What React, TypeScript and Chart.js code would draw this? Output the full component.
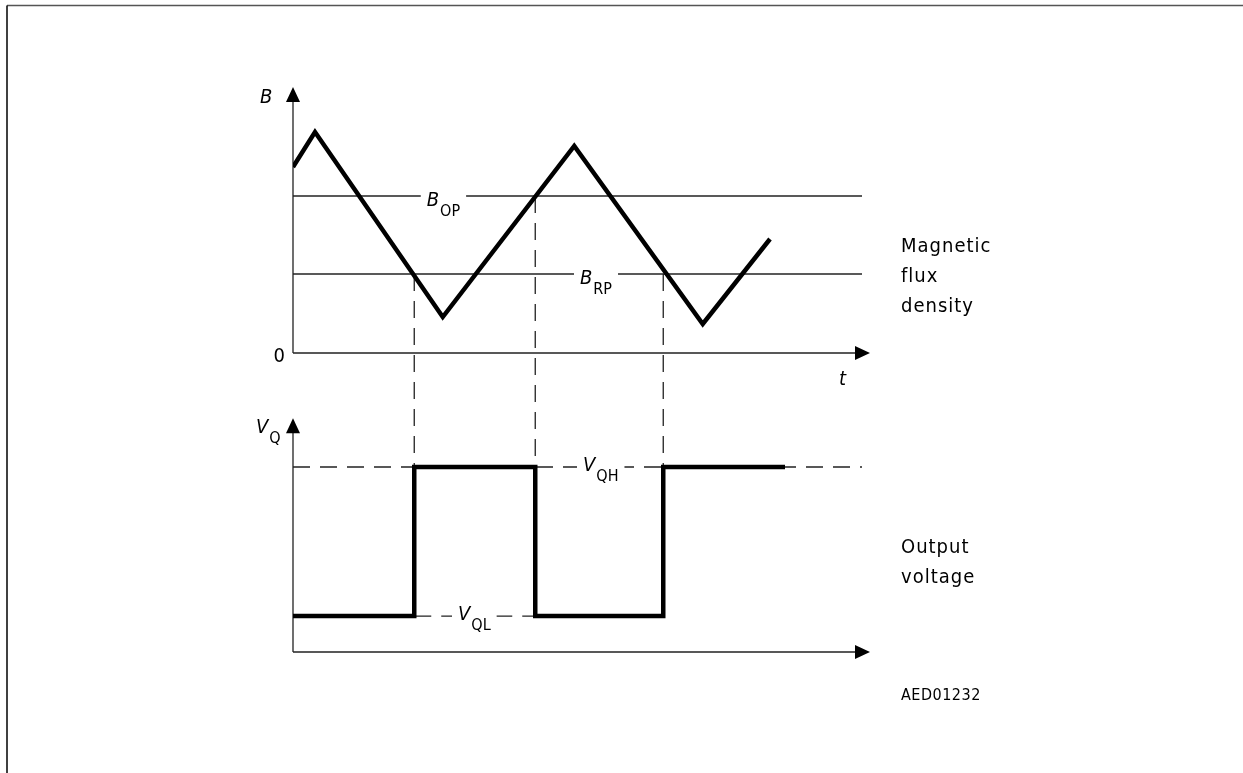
import React, { useEffect, useRef } from 'react';
import { Chart, registerables } from 'chart.js';

Chart.register(...registerables);

// ---- data (time in ms, flux density in mT, voltage in V) ----
const timeAxisEnd = 23.08;
const thresholdLineEnd = 22.76;

const fluxTimes = [0, 0.88, 5.99, 11.25, 16.39, 19.08];
const fluxValues = [18.6, 22.1, 3.6, 20.7, 2.9, 11.4];
const B_OP = 15.7;
const B_RP = 7.9;
const fluxAxisTop = 26.6;

const V_QH = 5.0;
const V_QL = 0.97;
const switchTimes = [0, 4.85, 9.69, 14.81, 19.68];
const outputLevels = [V_QL, V_QH, V_QL, V_QH, V_QH];
const voltageAxisTop = 6.32;

// which threshold triggers each switching edge (index into switchTimes)
const edgeThresholds = [B_RP, B_OP, B_RP];

const sideLabelsTop = ['Magnetic', 'flux', 'density'];
const sideLabelsBottom = ['Output', 'voltage'];
const figureCode = 'AED01232';

const FONT = '"DejaVu Sans Condensed", "DejaVu Sans", sans-serif';

function arrowUp(ctx: CanvasRenderingContext2D, x: number, tipY: number) {
  ctx.beginPath();
  ctx.moveTo(x, tipY);
  ctx.lineTo(x - 7, tipY + 15);
  ctx.lineTo(x + 7, tipY + 15);
  ctx.closePath();
  ctx.fill();
}

function arrowRight(ctx: CanvasRenderingContext2D, tipX: number, y: number) {
  ctx.beginPath();
  ctx.moveTo(tipX, y);
  ctx.lineTo(tipX - 15, y - 7);
  ctx.lineTo(tipX - 15, y + 7);
  ctx.closePath();
  ctx.fill();
}

function subLabel(
  ctx: CanvasRenderingContext2D,
  main: string,
  sub: string,
  x: number,
  baseline: number,
  lineY: number | null
) {
  ctx.font = `italic 20px ${FONT}`;
  const w1 = ctx.measureText(main).width;
  ctx.font = `16px ${FONT}`;
  const w2 = ctx.measureText(sub).width;
  if (lineY !== null) {
    ctx.fillStyle = '#ffffff';
    ctx.fillRect(x - 6, lineY - 2, w1 + w2 + 13, 4);
  }
  ctx.fillStyle = '#000000';
  ctx.font = `italic 20px ${FONT}`;
  ctx.fillText(main, x, baseline);
  ctx.font = `16px ${FONT}`;
  ctx.fillText(sub, x + w1 + 1, baseline + 10);
}

const diagramPlugin = {
  id: 'diagram',
  beforeDatasetsDraw(chart: any) {
    const ctx: CanvasRenderingContext2D = chart.ctx;
    const xs = chart.scales.x;
    const yB = chart.scales.yB;
    const yV = chart.scales.yV;
    ctx.save();
    // frame (top and left edges)
    ctx.strokeStyle = '#555';
    ctx.lineWidth = 1.5;
    ctx.beginPath();
    ctx.moveTo(7, 5.5);
    ctx.lineTo(1243, 5.5);
    ctx.stroke();
    ctx.strokeStyle = '#000';
    ctx.beginPath();
    ctx.moveTo(7, 5.5);
    ctx.lineTo(7, 773);
    ctx.stroke();

    // axes
    const x0 = xs.getPixelForValue(0);
    const xEnd = xs.getPixelForValue(timeAxisEnd);
    ctx.strokeStyle = '#222';
    ctx.fillStyle = '#000';
    ctx.lineWidth = 1.3;
    const b0 = yB.getPixelForValue(0);
    const bTop = yB.getPixelForValue(fluxAxisTop);
    const v0 = yV.getPixelForValue(0);
    const vTop = yV.getPixelForValue(voltageAxisTop);
    ctx.beginPath();
    ctx.moveTo(x0, b0);
    ctx.lineTo(x0, bTop + 12);
    ctx.moveTo(x0, b0);
    ctx.lineTo(xEnd - 12, b0);
    ctx.moveTo(x0, v0);
    ctx.lineTo(x0, vTop + 12);
    ctx.moveTo(x0, v0);
    ctx.lineTo(xEnd - 12, v0);
    ctx.stroke();
    arrowUp(ctx, x0, bTop);
    arrowUp(ctx, x0, vTop);
    arrowRight(ctx, xEnd, b0);
    arrowRight(ctx, xEnd, v0);

    // vertical dashed projection lines
    ctx.setLineDash([17, 10]);
    ctx.lineWidth = 1.3;
    edgeThresholds.forEach((th, i) => {
      const px = xs.getPixelForValue(switchTimes[i + 1]);
      ctx.beginPath();
      ctx.moveTo(px, yB.getPixelForValue(th));
      ctx.lineTo(px, yV.getPixelForValue(V_QH));
      ctx.stroke();
    });
    ctx.setLineDash([]);
    ctx.restore();
  },
  afterDatasetsDraw(chart: any) {
    const ctx: CanvasRenderingContext2D = chart.ctx;
    const xs = chart.scales.x;
    const yB = chart.scales.yB;
    const yV = chart.scales.yV;
    const x0 = xs.getPixelForValue(0);
    ctx.save();
    ctx.textBaseline = 'alphabetic';
    ctx.textAlign = 'left';

    const lOP = yB.getPixelForValue(B_OP);
    const lRP = yB.getPixelForValue(B_RP);
    const lQH = yV.getPixelForValue(V_QH);
    const lQL = yV.getPixelForValue(V_QL);
    subLabel(ctx, 'B', 'OP', xs.getPixelForValue(5.35), lOP + 10, lOP);
    subLabel(ctx, 'B', 'RP', xs.getPixelForValue(11.48), lRP + 10, lRP);
    subLabel(ctx, 'V', 'QH', xs.getPixelForValue(11.6), lQH + 4, lQH);
    subLabel(ctx, 'V', 'QL', xs.getPixelForValue(6.6), lQL + 4, lQL);

    // axis labels
    const bTop = yB.getPixelForValue(fluxAxisTop);
    const b0 = yB.getPixelForValue(0);
    const vTop = yV.getPixelForValue(voltageAxisTop);
    ctx.fillStyle = '#000';
    ctx.font = `italic 20px ${FONT}`;
    ctx.fillText('B', x0 - 33, bTop + 16);
    ctx.fillText('t', x0 + 546, b0 + 32);
    subLabel(ctx, 'V', 'Q', x0 - 37, vTop + 15, null);
    ctx.font = `20px ${FONT}`;
    ctx.textAlign = 'right';
    ctx.fillText('0', x0 - 8, b0 + 9);
    ctx.textAlign = 'left';

    // side descriptions
    ctx.font = `20px ${FONT}`;
    (ctx as any).letterSpacing = '1px';
    sideLabelsTop.forEach((s, i) => ctx.fillText(s, 901, 252 + i * 30));
    sideLabelsBottom.forEach((s, i) => ctx.fillText(s, 901, 553 + i * 30));
    ctx.font = `16px ${FONT}`;
    (ctx as any).letterSpacing = '0.5px';
    ctx.fillText(figureCode, 901, 700);
    (ctx as any).letterSpacing = '0px';
    ctx.restore();
  },
};

export default function App() {
  const canvasRef = useRef<HTMLCanvasElement | null>(null);

  useEffect(() => {
    document.body.style.margin = '0';
    const canvas = canvasRef.current;
    if (!canvas) return;
    const thick = { borderColor: '#000', borderWidth: 4.5, pointRadius: 0, fill: false, tension: 0 };
    const thin = { borderColor: '#222', borderWidth: 1.3, pointRadius: 0, fill: false, tension: 0 };
    const chart = new Chart(canvas, {
      type: 'scatter',
      data: {
        datasets: [
          {
            ...thick,
            label: 'B(t)',
            showLine: true,
            yAxisID: 'yB',
            data: fluxTimes.map((t, i) => ({ x: t, y: fluxValues[i] })),
          },
          {
            ...thick,
            label: 'VQ(t)',
            showLine: true,
            stepped: true,
            yAxisID: 'yV',
            data: switchTimes.map((t, i) => ({ x: t, y: outputLevels[i] })),
          },
          {
            ...thin,
            label: 'BOP',
            showLine: true,
            yAxisID: 'yB',
            data: [{ x: 0, y: B_OP }, { x: thresholdLineEnd, y: B_OP }],
          },
          {
            ...thin,
            label: 'BRP',
            showLine: true,
            yAxisID: 'yB',
            data: [{ x: 0, y: B_RP }, { x: thresholdLineEnd, y: B_RP }],
          },
          {
            ...thin,
            label: 'VQH',
            showLine: true,
            borderDash: [17, 10],
            yAxisID: 'yV',
            data: [{ x: 0, y: V_QH }, { x: thresholdLineEnd, y: V_QH }],
          },
          {
            ...thin,
            label: 'VQL',
            showLine: true,
            borderDash: [17, 10],
            yAxisID: 'yV',
            data: [{ x: switchTimes[1], y: V_QL }, { x: switchTimes[2], y: V_QL }],
          },
        ],
      },
      options: {
        animation: false,
        responsive: false,
        devicePixelRatio: 1,
        events: [],
        layout: { padding: { left: 293, right: 373, top: 87, bottom: 121 } },
        plugins: { legend: { display: false }, tooltip: { enabled: false } },
        scales: {
          x: { type: 'linear', min: 0, max: timeAxisEnd, display: false },
          yB: { type: 'linear', min: -29.9, max: fluxAxisTop, display: false },
          yV: { type: 'linear', min: 0, max: 15.27, display: false },
        },
      },
      plugins: [diagramPlugin],
    } as any);
    return () => chart.destroy();
  }, []);

  return (
    <div style={{ position: 'fixed', left: 0, top: 0, width: 1243, height: 773, background: '#fff' }}>
      <canvas ref={canvasRef} width={1243} height={773} style={{ display: 'block' }} />
    </div>
  );
}
